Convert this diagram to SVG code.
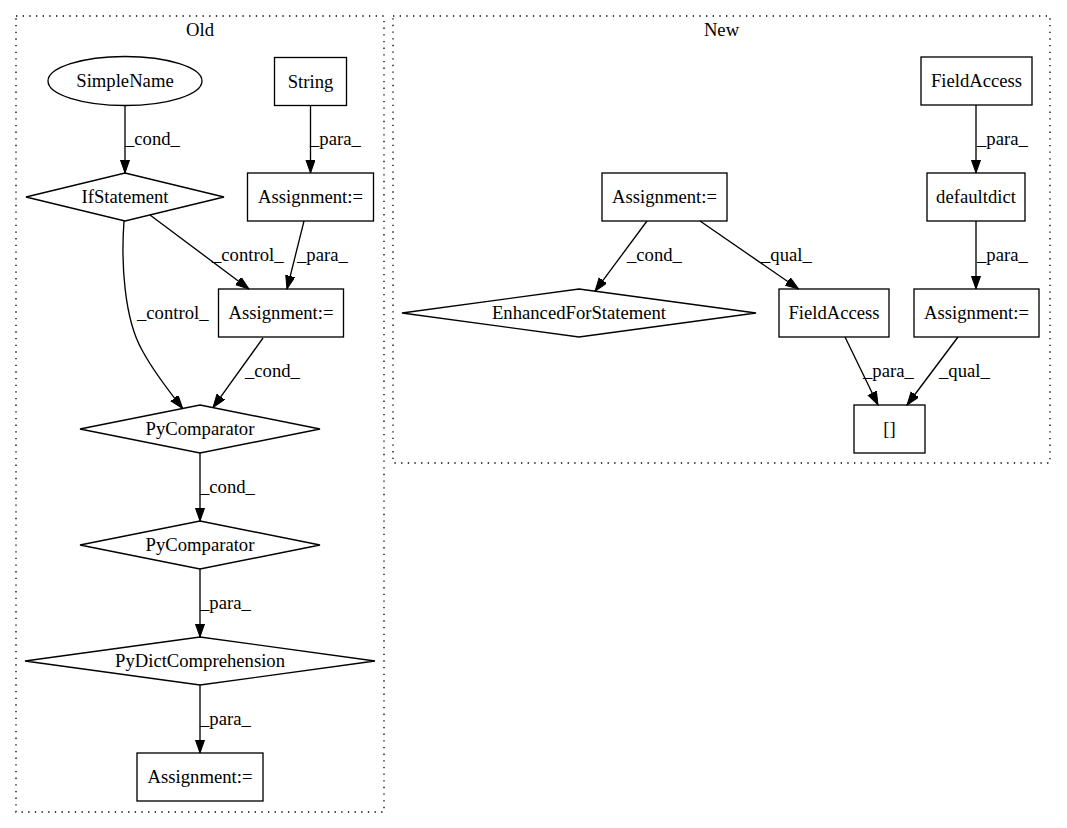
<svg xmlns="http://www.w3.org/2000/svg" width="1067" height="828" viewBox="0 0 1067 828">
<style>
text{font-family:"Liberation Serif","Times New Roman",serif;font-size:18.67px;fill:#000}
.n{text-anchor:middle}
.shape{fill:none;stroke:#000;stroke-width:1.33}
.cl{fill:none;stroke:#000;stroke-width:1.33;stroke-dasharray:1.33,5.33}
.e{fill:none;stroke:#000;stroke-width:1.33;marker-end:url(#arr)}
</style>
<defs>
<marker id="arr" markerUnits="userSpaceOnUse" markerWidth="14" markerHeight="10" viewBox="0 0 14 10" refX="13.3" refY="4.67" orient="auto">
<path d="M0,0 L13.3,4.67 L0,9.33 z" fill="#000" stroke="#000" stroke-width="1"/>
</marker>
</defs>
<rect width="1067" height="828" fill="#fff"/>
<g id="cluster_old">
<rect class="cl" x="16" y="16" width="368" height="796"/>
<text class="n" x="200" y="36">Old</text>
</g>
<g id="cluster_new">
<rect class="cl" x="393" y="16" width="657" height="447"/>
<text class="n" x="721.5" y="36">New</text>
</g>
<g id="edges">
<path class="e" d="M125,106 L125,173"/>
<text x="125" y="145">_cond_</text>
<path class="e" d="M310.5,105.5 L310.5,173"/>
<text x="310" y="145">_para_</text>
<path class="e" d="M150,215 L249,289"/>
<text x="212" y="261">_control_</text>
<path class="e" d="M304,221 L287,289"/>
<text x="297" y="261">_para_</text>
<path class="e" d="M124,221 C121,262 124,318 142,350 C151,367 164,385 182.7,408.5"/>
<text x="137" y="319">_control_</text>
<path class="e" d="M263,338 L213,407.6"/>
<text x="245" y="377">_cond_</text>
<path class="e" d="M200,453 L200,521"/>
<text x="200" y="493">_cond_</text>
<path class="e" d="M200,569 L200,637"/>
<text x="200" y="609">_para_</text>
<path class="e" d="M200,685 L200,753"/>
<text x="200" y="725">_para_</text>
<path class="e" d="M976,105 L976,173"/>
<text x="977" y="145">_para_</text>
<path class="e" d="M976,221 L976,289"/>
<text x="977" y="261">_para_</text>
<path class="e" d="M647,221 L595,291.2"/>
<text x="627" y="261">_cond_</text>
<path class="e" d="M700,221 L798.6,289"/>
<text x="761" y="261">_qual_</text>
<path class="e" d="M845,337 L878,405"/>
<text x="863" y="377">_para_</text>
<path class="e" d="M958,337 L907,405"/>
<text x="939" y="377">_qual_</text>
</g>
<g id="simplename">
<ellipse class="shape" cx="125" cy="81" rx="77" ry="24.5"/>
<text class="n" x="125" y="87">SimpleName</text>
</g>
<g id="string">
<rect class="shape" x="274.5" y="57.5" width="72" height="48"/>
<text class="n" x="310.5" y="87.5">String</text>
</g>
<g id="ifstatement">
<polygon class="shape" points="125,173 224,197 125,221 26,197"/>
<text class="n" x="125" y="203">IfStatement</text>
</g>
<g id="assign_old_1">
<rect class="shape" x="247.5" y="173" width="126" height="48"/>
<text class="n" x="310.5" y="203">Assignment:=</text>
</g>
<g id="assign_old_2">
<rect class="shape" x="218.5" y="289" width="125" height="48"/>
<text class="n" x="281" y="319">Assignment:=</text>
</g>
<g id="pycomparator_1">
<polygon class="shape" points="200,405 320,429 200,453 80,429"/>
<text class="n" x="200" y="435">PyComparator</text>
</g>
<g id="pycomparator_2">
<polygon class="shape" points="200,521 320,545 200,569 80,545"/>
<text class="n" x="200" y="551">PyComparator</text>
</g>
<g id="pydictcomprehension">
<polygon class="shape" points="200,637 375,661 200,685 25,661"/>
<text class="n" x="200" y="667">PyDictComprehension</text>
</g>
<g id="assign_old_3">
<rect class="shape" x="137" y="753" width="126" height="48"/>
<text class="n" x="200" y="783">Assignment:=</text>
</g>
<g id="fieldaccess_1">
<rect class="shape" x="921" y="57" width="111" height="48"/>
<text class="n" x="976.5" y="87">FieldAccess</text>
</g>
<g id="defaultdict">
<rect class="shape" x="927" y="173" width="98" height="48"/>
<text class="n" x="976" y="203">defaultdict</text>
</g>
<g id="assign_new_1">
<rect class="shape" x="602" y="173" width="125" height="48"/>
<text class="n" x="664.5" y="203">Assignment:=</text>
</g>
<g id="enhancedfor">
<polygon class="shape" points="579,289 756,313 579,337 402,313"/>
<text class="n" x="579" y="319">EnhancedForStatement</text>
</g>
<g id="fieldaccess_2">
<rect class="shape" x="779" y="289" width="110" height="48"/>
<text class="n" x="834" y="319">FieldAccess</text>
</g>
<g id="assign_new_2">
<rect class="shape" x="914" y="289" width="125" height="48"/>
<text class="n" x="976.5" y="319">Assignment:=</text>
</g>
<g id="index">
<rect class="shape" x="854" y="405" width="71" height="48"/>
<text class="n" x="889.5" y="435">[]</text>
</g>
</svg>
